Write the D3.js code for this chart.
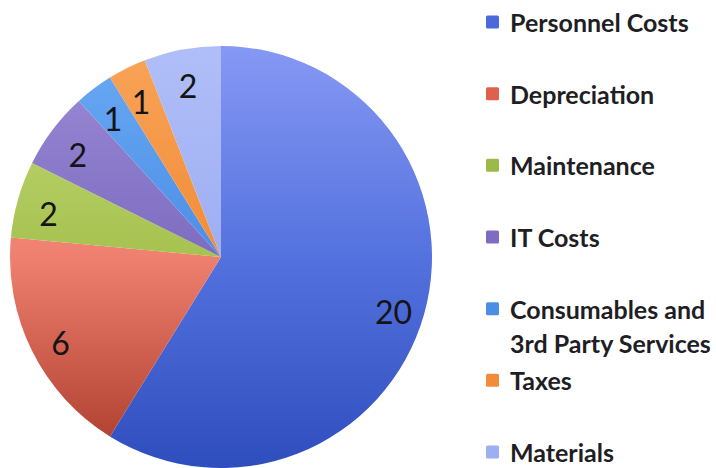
<!DOCTYPE html>
<html>
<head>
<meta charset="utf-8">
<script src="https://cdn.jsdelivr.net/npm/d3@7"></script>
<style>
  html, body { margin: 0; padding: 0; background: #ffffff; }
  svg { display: block; }
</style>
</head>
<body>
<svg id="chart" width="716" height="468"></svg>
<script>
// Cost breakdown
const categories = [
  "Personnel Costs",
  "Depreciation",
  "Maintenance",
  "IT Costs",
  "Consumables and 3rd Party Services",
  "Taxes",
  "Materials"
];
const values = [20, 6, 2, 2, 1, 1, 2];

// Legend text, split into drawn lines
const legendLines = [
  ["Personnel Costs"],
  ["Depreciation"],
  ["Maintenance"],
  ["IT Costs"],
  ["Consumables and", "3rd Party Services"],
  ["Taxes"],
  ["Materials"]
];

// Slice shading: light at the top of the pie, darker toward the bottom
const palette = [
  { top: "#8698f4", mid: "#5472de", bot: "#2f4ebe" },
  { top: "#f8a292", mid: "#ef8070", bot: "#a83828" },
  { top: "#c4da7a", mid: "#a6c250", bot: "#728c2c" },
  { top: "#9c8cd6", mid: "#7e6cc0", bot: "#584898" },
  { top: "#6aaaf4", mid: "#4c8ee6", bot: "#2e66c0" },
  { top: "#f8a458", mid: "#f28c38", bot: "#c86a1c" },
  { top: "#b0bef8", mid: "#9eaef2", bot: "#7e8ede" }
];
const legendSwatch = ["#4a6adc", "#e0604e", "#9cba4a", "#7e6cc0", "#4c8ee6", "#f28c38", "#9eaef2"];

const svg = d3.select("#chart");
const cx = 221, cy = 257, r = 211;

const data = categories.map((c, i) => ({ name: c, value: values[i], i }));

const pie = d3.pie().sort(null).value(d => d.value).startAngle(0).endAngle(2 * Math.PI);
const arcs = pie(data);
const arc = d3.arc().innerRadius(0).outerRadius(r);
const labelArc = d3.arc().innerRadius(r * 0.85).outerRadius(r * 0.85);

// Vertical gradients expressed in the pie group's own frame (centre at 0,0)
const defs = svg.append("defs");
palette.forEach((p, i) => {
  const g = defs.append("linearGradient")
    .attr("id", "slice-grad-" + i)
    .attr("gradientUnits", "userSpaceOnUse")
    .attr("x1", 0).attr("y1", -r)
    .attr("x2", 0).attr("y2", r);
  g.append("stop").attr("offset", "0").attr("stop-color", p.top);
  g.append("stop").attr("offset", "0.5").attr("stop-color", p.mid);
  g.append("stop").attr("offset", "1").attr("stop-color", p.bot);
});

const pieG = svg.append("g").attr("transform", `translate(${cx},${cy})`);

pieG.selectAll("path.slice")
  .data(arcs)
  .join("path")
  .attr("class", "slice")
  .attr("d", arc)
  .attr("fill", d => `url(#slice-grad-${d.data.i})`);

pieG.selectAll("text.val")
  .data(arcs)
  .join("text")
  .attr("class", "val")
  .attr("transform", d => `translate(${labelArc.centroid(d)})`)
  .attr("text-anchor", "middle")
  .attr("dy", "0.55em")
  .attr("font-family", "Lato, 'Open Sans', sans-serif")
  .attr("font-size", 32)
  .attr("fill", "#141414")
  .text(d => d.data.value);

// Legend
const legendX = 486, legendTextX = 510;
const slotY = d3.scaleLinear().domain([0, categories.length - 1]).range([22, 452]);
const lineGap = 34;

const lg = svg.append("g").attr("class", "legend");
const items = lg.selectAll("g.item")
  .data(data)
  .join("g")
  .attr("class", "item")
  .attr("transform", d => `translate(0,${slotY(d.i)})`);

items.append("rect")
  .attr("x", legendX)
  .attr("y", -6.5)
  .attr("width", 13)
  .attr("height", 13)
  .attr("rx", 1.5)
  .attr("fill", d => legendSwatch[d.i]);

items.append("text")
  .attr("x", legendTextX)
  .attr("font-family", "Lato, 'Open Sans', sans-serif")
  .attr("font-weight", 700)
  .attr("font-size", 25)
  .attr("fill", "#1e1e24")
  .selectAll("tspan")
  .data(d => legendLines[d.i].map((t, k) => ({ t, k })))
  .join("tspan")
  .attr("x", legendTextX)
  .attr("y", d => d.k * lineGap)
  .attr("dominant-baseline", "central")
  .text(d => d.t);
</script>
</body>
</html>
